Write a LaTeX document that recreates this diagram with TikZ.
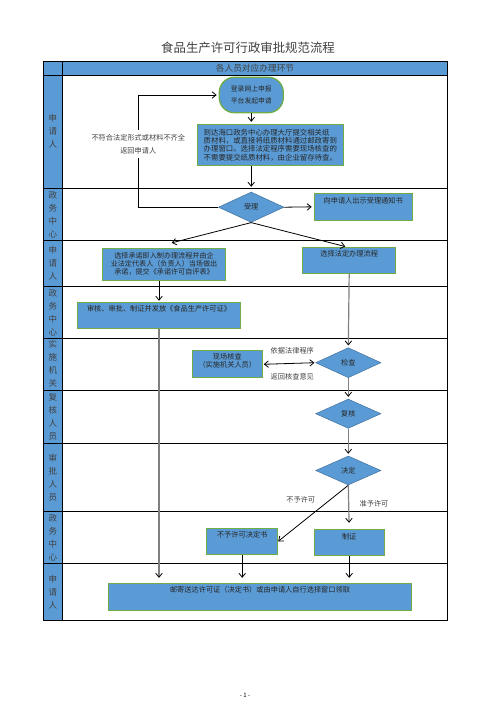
\documentclass[tikz,border=0pt]{standalone}
\usepackage{fontspec}
\setmainfont{Noto Sans CJK SC}
\usepackage{tikz}
\usetikzlibrary{arrows.meta, positioning, shapes.geometric}
\usepackage{xcolor}
\definecolor{boxblue}{RGB}{91,155,213}
\definecolor{boxgreen}{RGB}{112,173,71}
\definecolor{diaedge}{RGB}{65,113,156}
\definecolor{linegray}{RGB}{128,128,128}
\definecolor{txtgray}{RGB}{64,64,64}
\newcommand{\boxfont}{\fontsize{7.2}{8.3}\selectfont}
\newcommand{\lanefont}{\fontsize{8.5}{13}\selectfont}

\begin{document}
\begin{tikzpicture}[
  x=1pt, y=-1pt,
  >={Straight Barb[length=4pt,width=6.5pt]},
  grid/.style={draw=black, line width=0.9pt},
  lane/.style={align=center, font=\lanefont, text=txtgray},
  box/.style={draw=boxgreen, line width=1pt, fill=boxblue, align=center, font=\boxfont, text=black!85, inner sep=2pt},
  startbox/.style={box, line width=1.3pt, rounded corners=15pt},
  choice/.style={diamond, draw=diaedge, line width=0.5pt, fill=boxblue, font=\boxfont, text=black!85, inner sep=0pt},
  note/.style={align=center, font=\boxfont, text=txtgray},
  flow/.style={->, line width=0.8pt, shorten >=2pt},
  grayflow/.style={-{Straight Barb[length=4pt,width=6.5pt,color=black,line width=0.8pt]}, draw=linegray, line width=1.2pt, shorten >=2pt}
]
\useasboundingbox (0,0) rectangle (496,702);

% Title
\node[font=\fontsize{12.4}{14}\selectfont, text=txtgray] (title) at (248,47.3) {食品生产许可行政审批规范流程};

% Table background and grid
\fill[boxblue] (43.3,61.7) rectangle (447.7,75);
\fill[boxblue] (43.3,75) rectangle (62.3,620.3);
\draw[grid] (43.3,61.7) rectangle (447.7,620.3);
\draw[grid] (62.3,61.7) -- (62.3,620.3);
\draw[grid] (43.3,75) -- (447.7,75)
  (43.3,188.3) -- (447.7,188.3)
  (43.3,240.3) -- (447.7,240.3)
  (43.3,286.7) -- (447.7,286.7)
  (43.3,338.3) -- (447.7,338.3)
  (43.3,390) -- (447.7,390)
  (43.3,443.3) -- (447.7,443.3)
  (43.3,511.7) -- (447.7,511.7)
  (43.3,563.3) -- (447.7,563.3);

\node[font=\fontsize{8.7}{10}\selectfont, text=txtgray] (hdr) at (255,68.5) {各人员对应办理环节};

% Lane labels
\node[lane] (r1) at (52.8,131.7) {申\\请\\人};
\node[lane] (r2) at (52.8,214.3) {政\\务\\中\\心};
\node[lane] (r3) at (52.8,263.5) {申\\请\\人};
\node[lane] (r4) at (52.8,312.5) {政\\务\\中\\心};
\node[lane] (r5) at (52.8,364.2) {实\\施\\机\\关};
\node[lane] (r6) at (52.8,416.7) {复\\核\\人\\员};
\node[lane] (r7) at (52.8,477.5) {审\\批\\人\\员};
\node[lane] (r8) at (52.8,537.5) {政\\务\\中\\心};
\node[lane] (r9) at (52.8,591.8) {申\\请\\人};

% Application
\node[startbox, minimum width=64pt, minimum height=35.4pt, font=\fontsize{6.8}{12}\selectfont] (start) at (251.3,95) {登录网上申报\\平台发起申请};
\node[box, minimum width=146pt, minimum height=41.4pt, align=left, font=\fontsize{7.4}{8.3}\selectfont] (submit) at (270.3,145) {到达海口政务中心办理大厅提交相关纸\\质材料，或直接将纸质材料通过邮政寄到\\办理窗口。选择法定程序需要现场核查的\\不需要提交纸质材料，由企业留存待查。};

% Acceptance
\node[choice, minimum width=65.7pt, minimum height=30.3pt] (accept) at (251.2,207.2) {受理};
\node[box, minimum width=98pt, minimum height=27pt, text depth=13pt] (notice) at (363.2,206.8) {向申请人出示受理通知书};
\coordinate (bk) at (138.3,144);

% Procedure choice
\node[box, minimum width=123.4pt, minimum height=31.7pt, font=\fontsize{7.1}{8}\selectfont] (promise) at (164,264.2) {选择承诺即入制办理流程并由企\\业法定代表人（负责人）当场做出\\承诺，提交《承诺许可自评表》};
\node[box, minimum width=93pt, minimum height=26pt, text depth=13pt] (legal) at (349.2,260.3) {选择法定办理流程};
\node[box, minimum width=163.4pt, minimum height=26pt, text depth=13pt] (issue) at (159,315.3) {审核、审批、制证并发放《食品生产许可证》};

% Inspection, review, decision
\node[choice, minimum width=65.3pt, minimum height=30pt] (check) at (348.3,362.7) {检查};
\node[box, minimum width=70pt, minimum height=26.7pt, text depth=7pt] (site) at (227.3,364.3) {现场核查\\（实施机关人员）};
\node[choice, minimum width=65.3pt, minimum height=29.3pt] (review) at (348.3,413.7) {复核};
\node[choice, minimum width=65.3pt, minimum height=29pt] (decide) at (348.3,470.5) {决定};

% Results
\node[box, minimum width=71pt, minimum height=26pt, text depth=13pt] (refuse) at (242.2,541.3) {不予许可决定书};
\node[box, minimum width=70.3pt, minimum height=26pt, text depth=12pt] (license) at (349.2,542.3) {制证};
\node[box, minimum width=303.4pt, minimum height=26.7pt, text depth=14pt] (deliver) at (260,596.7) {邮寄送达许可证（决定书）或由申请人自行选择窗口领取};

% Connectors
\draw[flow] (start.south) -- (start.south |- submit.north);
\draw[flow, shorten >=5pt] (accept.north |- submit.south) -- (accept.north);
\draw[flow] (accept.east) -- (notice.west);
\draw[flow] (accept.west) -| (bk) |- (start.west);
\node[note, fill=white, inner ysep=4pt, font=\fontsize{7.2}{12.6}\selectfont] (backlbl) at (bk) {不符合法定形式或材料不齐全\\返回申请人};
\draw[flow, shorten >=0pt] (accept.south) -- ([xshift=7.7pt,yshift=5pt]promise.north);
\draw[flow, shorten >=1pt] (accept.south) -- ([xshift=-3pt]legal.north);
\draw[flow, shorten >=1pt] (promise.south -| issue.north) -- (issue.north);
\draw[grayflow] (legal.south) -- (check.north);
\draw[<->, line width=0.8pt, shorten <=1pt, shorten >=1pt] (site.east) -- (check.west);
\node[note] (lawlbl) at (292.3,350.3) {依据法律程序};
\node[note] (retlbl) at (292.3,376.7) {返回核查意见};
\draw[grayflow] (check.south) -- (review.north);
\draw[grayflow] (review.south) -- (decide.north);
\draw[flow, shorten >=0pt] (decide.south) -- (refuse.east);
\draw[grayflow, shorten >=6pt] (decide.south) -- (license.north);
\node[note] (nolbl) at (300.7,499.3) {不予许可};
\node[note] (yeslbl) at (374,504) {准予许可};
\draw[grayflow, shorten >=5pt] (issue.south) -- (issue.south |- deliver.north);
\draw[flow, shorten >=5pt] (refuse.south) -- (refuse.south |- deliver.north);
\draw[flow, shorten >=5pt] (license.south) -- (license.south |- deliver.north);

% Page number
\node[font=\fontsize{6}{7}\selectfont] (pageno) at (245,695) {- 1 -};
\end{tikzpicture}
\end{document}
